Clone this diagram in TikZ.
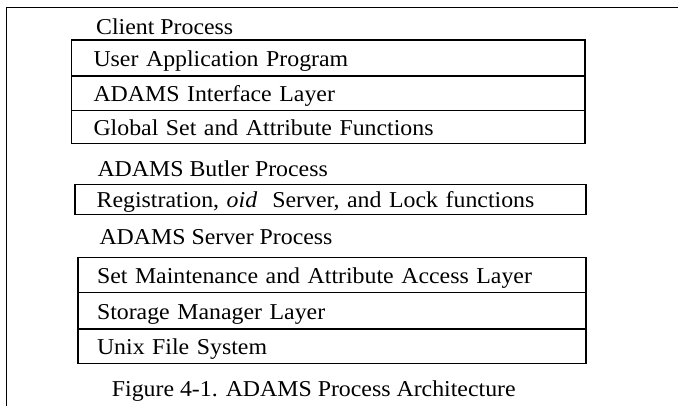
\documentclass[tikz,border=0pt]{standalone}
\usepackage{fontspec}
\setmainfont{Liberation Serif}[FakeStretch=1.05]
\usepackage{tikz}
\usetikzlibrary{positioning}

\newcommand{\layerfont}{\fontsize{22.7}{27}\selectfont}

\begin{document}
\begin{tikzpicture}[x=1pt, y=1pt,
  frame/.style={draw=black, line width=1.4pt},
  layer/.style={draw=black, line width=1.3pt, outer sep=0pt, inner ysep=0pt,
                align=left, font=\layerfont, text height=17.2pt, text depth=0pt},
  client/.style={layer, inner xsep=22pt, text width=469.5pt},
  butler/.style={layer, inner xsep=21.7pt, text width=467.6pt},
  server/.style={layer, inner xsep=19pt, text width=470pt},
  head/.style={inner sep=0pt, font=\layerfont, text height=17.2pt, text depth=0pt}]
  \useasboundingbox (0,0) rectangle (678,-406);
  \draw[frame] (6.5,-406) |- (678,-7.3);
  % client process
  \node[client, minimum height=36pt, anchor=north west] (uap) at (71.5,-40) {User Application Program};
  \node[client, minimum height=34.5pt, below=0pt of uap] (ail) {ADAMS Interface Layer};
  \node[client, minimum height=33.2pt, below=0pt of ail] (gsa) {Global Set and Attribute Functions};
  \node[head, above right=5pt and 24.5pt of uap.north west] (clientp) {Client Process};
  % butler process
  \node[butler, minimum height=30pt, below right=40.6pt and 3.5pt of gsa.south west] (reg) {Registration, \textit{oid}~ Server, and Lock functions};
  \node[head, above right=7.6pt and 22.3pt of reg.north west] (butlerp) {ADAMS Butler Process};
  % server process
  \node[server, minimum height=35pt, below right=43pt and 3pt of reg.south west] (sma) {Set Maintenance and Attribute Access Layer};
  \node[server, minimum height=36.7pt, below=0pt of sma] (sml) {Storage Manager Layer};
  \node[server, minimum height=34.3pt, below=0pt of sml] (ufs) {Unix File System};
  \node[head, above right=12.3pt and 21.3pt of sma.north west] (serverp) {ADAMS Server Process};
  % caption
  \node[head, below right=16pt and 33.7pt of ufs.south west] (caption) {Figure 4-1. ADAMS Process Architecture};
\end{tikzpicture}
\end{document}
